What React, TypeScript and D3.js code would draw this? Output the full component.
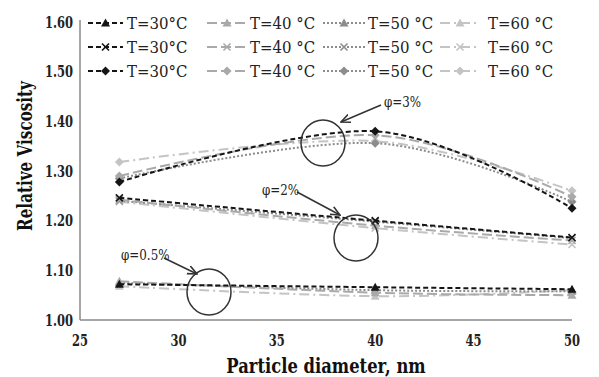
import React from "react";
import * as d3 from "d3";

const diameters = [27, 40, 50];
const tempLabels = ["T=30°C", "T=40 °C", "T=50 °C", "T=60 °C"];
const phiLabels = ["φ=0.5%", "φ=2%", "φ=3%"];
// values[temp] at diameters 27, 40, 50
const phi05 = [
  [1.072, 1.066, 1.062],
  [1.078, 1.055, 1.05],
  [1.075, 1.06, 1.058],
  [1.068, 1.048, 1.06],
];
const phi2 = [
  [1.246, 1.2, 1.166],
  [1.242, 1.19, 1.16],
  [1.24, 1.198, 1.165],
  [1.238, 1.185, 1.152],
];
const phi3 = [
  [1.278, 1.38, 1.225],
  [1.29, 1.372, 1.248],
  [1.285, 1.356, 1.238],
  [1.318, 1.36, 1.26],
];
const xTicks = [25, 30, 35, 40, 45, 50];
const yTicks = [1.0, 1.1, 1.2, 1.3, 1.4, 1.5, 1.6];

const styles = [
  { color: "#151515", dash: "5,3", width: 2 },
  { color: "#a9a9a9", dash: "10,4", width: 2 },
  { color: "#8c8c8c", dash: "2,2", width: 2 },
  { color: "#c4c4c4", dash: "10,4,2,4", width: 2 },
];
const markerTypes = ["triangle", "x", "diamond"];

function Marker({ type, x, y, color }: { type: string; x: number; y: number; color: string }) {
  if (type === "triangle") {
    return <path d={`M${x},${y - 4.5}L${x + 4.5},${y + 3.5}L${x - 4.5},${y + 3.5}Z`} fill={color} />;
  }
  if (type === "diamond") {
    return <path d={`M${x},${y - 4.5}L${x + 4.5},${y}L${x},${y + 4.5}L${x - 4.5},${y}Z`} fill={color} />;
  }
  return (
    <path
      d={`M${x - 3.5},${y - 3.5}L${x + 3.5},${y + 3.5}M${x - 3.5},${y + 3.5}L${x + 3.5},${y - 3.5}`}
      stroke={color}
      strokeWidth={1.6}
      fill="none"
    />
  );
}

const SERIF = "DejaVu Serif";

function Txt({
  x,
  y,
  sx = 1,
  anchor = "start",
  size,
  bold = false,
  fill = "#222",
  children,
}: {
  x: number;
  y: number;
  sx?: number;
  anchor?: string;
  size: number;
  bold?: boolean;
  fill?: string;
  children: React.ReactNode;
}) {
  return (
    <g transform={`translate(${x},${y}) scale(${sx},1)`}>
      <text
        x={0}
        y={0}
        dy="0.35em"
        textAnchor={anchor}
        fontSize={size}
        fontWeight={bold ? "bold" : "normal"}
        fill={fill}
        fontFamily={SERIF}
      >
        {children}
      </text>
    </g>
  );
}

export default function App() {
  const W = 599,
    H = 377;
  const x = d3.scaleLinear().domain([25, 50]).range([80, 572]);
  const y = d3.scaleLinear().domain([1.0, 1.6]).range([320, 22]);
  const line = d3
    .line<[number, number]>()
    .x((d) => x(d[0]))
    .y((d) => y(d[1]))
    .curve(d3.curveCardinal.tension(0));

  const groups = [phi05, phi2, phi3];

  const legendCols = [
    { x0: 88, x1: 123, tx: 127 },
    { x0: 207, x1: 247, tx: 250 },
    { x0: 323, x1: 365, tx: 368 },
    { x0: 440, x1: 480, tx: 488 },
  ];
  const legendRows = [23, 47, 71];

  return (
    <svg width={W} height={H} style={{ position: "absolute", left: 0, top: 0, background: "#fff" }}>
      <rect width={W} height={H} fill="#fff" />
      {/* axes */}
      <line x1={80} x2={80} y1={20} y2={320} stroke="#8a8a8a" strokeWidth={1.5} />
      <line x1={80} x2={572} y1={320} y2={320} stroke="#8a8a8a" strokeWidth={1.5} />
      {yTicks.map((t) => (
        <Txt key={t} x={73} y={y(t)} sx={0.72} anchor="end" size={16} bold>
          {t.toFixed(2)}
        </Txt>
      ))}
      {xTicks.map((t) => (
        <Txt key={t} x={x(t)} y={340} sx={0.72} anchor="middle" size={16} bold>
          {t}
        </Txt>
      ))}
      <Txt x={326} y={366} sx={0.82} anchor="middle" size={20} bold fill="#111">
        Particle diameter, nm
      </Txt>
      <g transform="translate(25,156) rotate(-90)">
        <Txt x={0} y={0} sx={0.76} anchor="middle" size={20} bold fill="#111">
          Relative Viscosity
        </Txt>
      </g>

      {/* series, lighter first */}
      {groups.map((g, gi) =>
        [3, 2, 1, 0].map((ti) => {
          const pts: [number, number][] = diameters.map((d, i) => [d, g[ti][i]]);
          const s = styles[ti];
          return (
            <g key={`${gi}-${ti}`}>
              <path d={line(pts) || ""} fill="none" stroke={s.color} strokeWidth={s.width} strokeDasharray={s.dash} />
              {pts.map((p, i) => (
                <Marker key={i} type={markerTypes[gi]} x={x(p[0])} y={y(p[1])} color={s.color} />
              ))}
            </g>
          );
        })
      )}

      {/* annotations */}
      <defs>
        <marker id="arr" viewBox="0 0 10 10" refX="9" refY="5" markerWidth="7" markerHeight="7" orient="auto-start-reverse">
          <path d="M0,1L9,5L0,9" fill="none" stroke="#333" strokeWidth={1.5} />
        </marker>
      </defs>
      <ellipse cx={323} cy={143} rx={22} ry={23} fill="none" stroke="#333" strokeWidth={1.5} />
      <ellipse cx={356} cy={238} rx={22} ry={23} fill="none" stroke="#333" strokeWidth={1.5} />
      <ellipse cx={209} cy={292} rx={22} ry={23} fill="none" stroke="#333" strokeWidth={1.5} />
      <line x1={381} y1={105} x2={341} y2={122} stroke="#333" strokeWidth={1.5} markerEnd="url(#arr)" />
      <line x1={297} y1={192} x2={340} y2={215} stroke="#333" strokeWidth={1.5} markerEnd="url(#arr)" />
      <line x1={164} y1={258} x2={197} y2={274} stroke="#333" strokeWidth={1.5} markerEnd="url(#arr)" />
      <Txt x={384} y={102} sx={0.85} size={14}>{phiLabels[2]}</Txt>
      <Txt x={262} y={190} sx={0.85} size={14}>{phiLabels[1]}</Txt>
      <Txt x={121} y={255} sx={0.85} size={14}>{phiLabels[0]}</Txt>

      {/* legend */}
      {legendRows.map((ry, ri) =>
        legendCols.map((c, ci) => {
          const s = styles[ci];
          const mx = (c.x0 + c.x1) / 2;
          return (
            <g key={`${ri}-${ci}`}>
              <line x1={c.x0} x2={c.x1} y1={ry} y2={ry} stroke={s.color} strokeWidth={s.width} strokeDasharray={s.dash} />
              <Marker type={markerTypes[ri]} x={mx} y={ry} color={s.color} />
              <Txt x={c.tx} y={ry} sx={0.88} size={17}>
                {tempLabels[ci]}
              </Txt>
            </g>
          );
        })
      )}
    </svg>
  );
}
